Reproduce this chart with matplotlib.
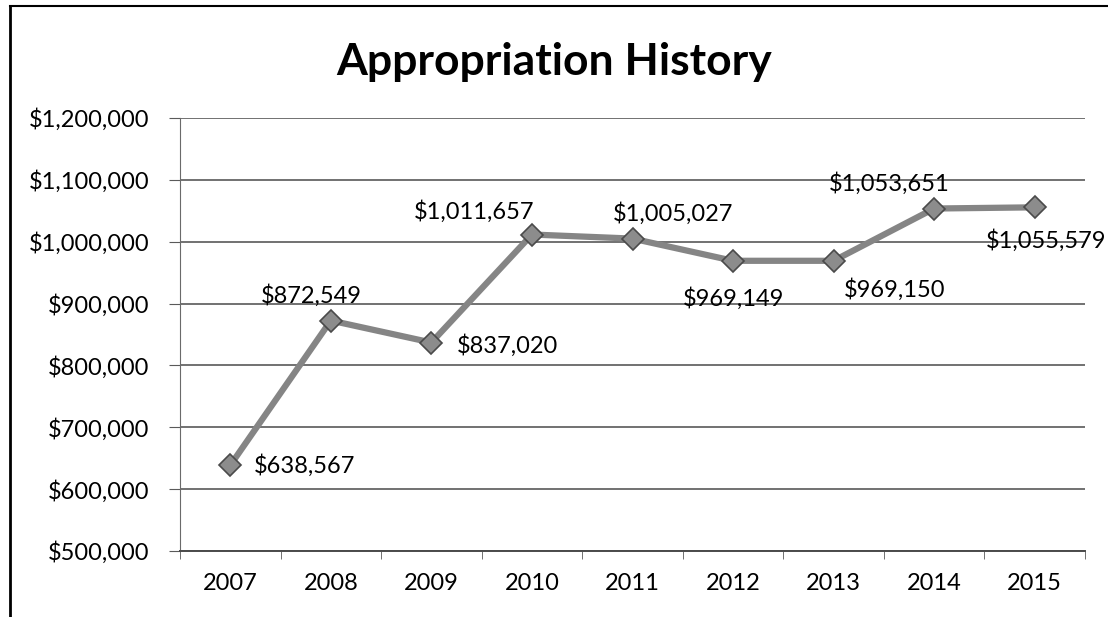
import matplotlib
matplotlib.use("Agg")
import matplotlib.pyplot as plt
from matplotlib.lines import Line2D
from matplotlib.ticker import FuncFormatter, MultipleLocator

plt.rcParams['font.family'] = ['Lato', 'DejaVu Sans']

years = ['2007', '2008', '2009', '2010', '2011', '2012', '2013', '2014', '2015']
amounts = [638567, 872549, 837020, 1011657, 1005027, 969149, 969150, 1053651, 1055579]

# label offsets (pixels) and alignment for each data label
label_pos = [
    ((24, 0), 'left', 'center'),
    ((-19, 14), 'center', 'bottom'),
    ((25, -3), 'left', 'center'),
    ((2, 12), 'right', 'bottom'),
    ((41, 14), 'center', 'bottom'),
    ((0, -26), 'center', 'top'),
    ((61, -17), 'center', 'top'),
    ((-45, 14), 'center', 'bottom'),
    ((11, -22), 'center', 'top'),
]

fig = plt.figure(figsize=(11.08, 6.17), dpi=100)
ax = fig.add_axes([180 / 1108, 1 - 551 / 617, 905 / 1108, 433 / 617])

x = list(range(len(years)))
ax.plot(x, amounts, color='#858585', linewidth=4.5, solid_joinstyle='round', zorder=3)
ax.plot(x, amounts, linestyle='none', marker='D', markersize=11,
        markerfacecolor='#8c8c8c', markeredgecolor='#4a4a4a', markeredgewidth=1.2, zorder=4)

for xi, val, (off, ha, va) in zip(x, amounts, label_pos):
    ax.annotate(f"${val:,}", (xi, val), xytext=off, textcoords='offset pixels',
                ha=ha, va=va, fontsize=17, color='black', zorder=5)

ax.set_xlim(-0.5, len(years) - 0.5)
ax.set_ylim(500000, 1200000)
ax.yaxis.set_major_locator(MultipleLocator(100000))
ax.yaxis.set_major_formatter(FuncFormatter(lambda v, p: f"${v:,.0f}"))
ax.set_xticks(x)
ax.set_xticklabels(years)
ax.set_xticks([i + 0.5 for i in range(-1, len(years))], minor=True)

ax.grid(axis='y', color='#4a4a4a', linewidth=1.1)
ax.set_axisbelow(True)
for side in ['top', 'right']:
    ax.spines[side].set_visible(False)
ax.spines['left'].set_color('#6a6a6a')
ax.spines['bottom'].set_color('#4a4a4a')
ax.spines['bottom'].set_linewidth(1.4)

ax.tick_params(axis='y', labelsize=17, length=8, color='#5a5a5a', pad=14)
ax.tick_params(axis='x', which='major', labelsize=17, length=0, pad=16)
ax.tick_params(axis='x', which='minor', length=6, color='#5a5a5a')

fig.text(0.5, 1 - 62 / 617, 'Appropriation History', ha='center', va='center',
         fontsize=32, fontweight='bold')

# outer frame (left and top edges)
fig.add_artist(Line2D([10 / 1108, 10 / 1108], [0, 1 - 6 / 617], transform=fig.transFigure,
                      color='black', linewidth=2))
fig.add_artist(Line2D([10 / 1108, 1], [1 - 6 / 617, 1 - 6 / 617], transform=fig.transFigure,
                      color='black', linewidth=1.5))

fig.savefig('out.png', dpi=100)
